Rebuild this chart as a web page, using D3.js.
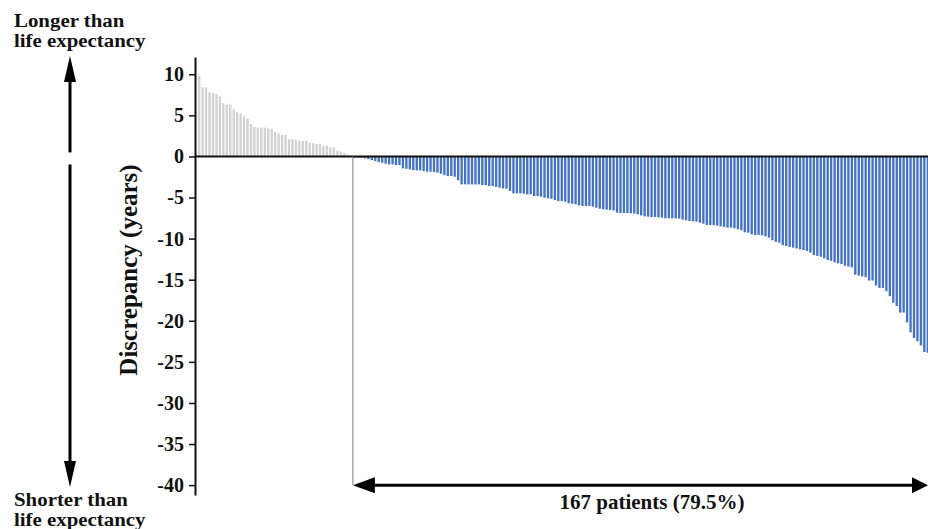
<!DOCTYPE html>
<html>
<head>
<meta charset="utf-8">
<script src="https://cdn.jsdelivr.net/npm/d3@7"></script>
<style>
  body { margin: 0; background: #fff; }
  text { font-family: "Liberation Serif", "Times New Roman", serif; font-weight: bold; }
</style>
</head>
<body>
<svg id="chart"></svg>
<script>
// survival longer than life expectancy (years), sorted
const longerLife = [
  9.8, 8.4, 8.4, 7.8, 7.7, 7.6, 7.3, 6.5, 6.3, 6.3, 5.7, 5.4, 5.2, 4.9, 4.6,
  3.9, 3.6, 3.5, 3.5, 3.5, 3.4, 3.3, 3.0, 2.8, 2.6, 2.6, 2.1, 2.1, 2.0, 1.9,
  1.9, 1.9, 1.7, 1.6, 1.5, 1.5, 1.3, 1.3, 1.1, 1.1, 0.7, 0.6, 0.4, 0.2, 0.05
];

// survival shorter than life expectancy (years), 167 patients
const shorterLife = [
  -0.16, -0.16, -0.16, -0.24, -0.32, -0.45, -0.57, -0.69, -0.77, -0.89, -0.97, -0.97, -1.05, -1.05,
  -1.46, -1.5, -1.58, -1.66, -1.7, -1.7, -1.78, -1.86, -1.86, -1.9, -1.98, -2.1, -2.27, -2.39, -2.39,
  -2.47, -2.9, -3.4, -3.4, -3.4, -3.4, -3.4, -3.4, -3.48, -3.5, -3.6, -3.6, -3.7, -3.8,
  -3.89, -3.93, -4.21, -4.49, -4.49, -4.49, -4.53, -4.61, -4.61, -4.82, -4.82, -4.9, -5.02, -5.1,
  -5.14, -5.3, -5.43, -5.43, -5.5, -5.7, -5.75, -5.83, -5.95, -6.03, -6.03, -6.03, -6.11, -6.23,
  -6.36, -6.44, -6.48, -6.52, -6.56, -6.84, -6.88, -6.88, -6.88, -6.92, -6.96, -7.04, -7.17, -7.29,
  -7.33, -7.37, -7.37, -7.41, -7.45, -7.53, -7.53, -7.53, -7.53, -7.57, -7.69, -7.77, -7.85, -7.89,
  -7.94, -8.06, -8.18, -8.34, -8.34, -8.38, -8.42, -8.5, -8.58, -8.66, -8.66, -8.74, -8.87, -8.99,
  -9.23, -9.27, -9.47, -9.55, -9.55, -9.6, -9.72, -9.88, -10.2, -10.4, -10.5, -10.8,
  -10.9, -11.0, -11.1, -11.2, -11.3, -11.4, -11.5, -11.7, -12.0, -12.1, -12.2, -12.4, -12.6, -12.7,
  -12.9, -13.0, -13.1, -13.3, -13.4, -13.5, -14.4, -14.5, -14.6, -14.7, -15.1, -15.1, -15.7, -16.0,
  -16.0, -16.4, -17.0, -17.8, -18.2, -19.0, -19.0, -20.2, -21.4, -22.1, -22.5, -23.0, -23.8, -23.9
];

const yTickValues = [10, 5, 0, -5, -10, -15, -20, -25, -30, -35, -40];
const shorterLabel = '167 patients (79.5%)';

const width = 928;
const height = 529;
const values = longerLife.concat(shorterLife);

const svg = d3.select('#chart')
  .attr('width', width)
  .attr('height', height);

const x = d3.scaleBand()
  .domain(d3.range(values.length))
  .range([198, 929])
  .paddingInner(0.32)
  .paddingOuter(0);

const y = d3.scaleLinear()
  .domain([-41.2, 12.1])
  .range([495, 57]);

// bars
svg.append('g')
  .selectAll('rect')
  .data(values)
  .join('rect')
  .attr('x', (d, i) => x(i))
  .attr('width', x.bandwidth())
  .attr('y', d => y(Math.max(0, d)))
  .attr('height', d => Math.abs(y(d) - y(0)))
  .attr('fill', (d, i) => i < longerLife.length ? '#d2d2d2' : '#4472c4');

// zero line
svg.append('line')
  .attr('x1', 195).attr('x2', width)
  .attr('y1', y(0)).attr('y2', y(0))
  .attr('stroke', '#111')
  .attr('stroke-width', 2);

// y axis
const yAxis = svg.append('g')
  .attr('transform', 'translate(195,0)')
  .call(d3.axisLeft(y).tickValues(yTickValues).tickFormat(d => String(d)).tickSize(6).tickSizeOuter(0).tickPadding(5));
yAxis.select('.domain').attr('stroke', '#111').attr('stroke-width', 2);
yAxis.selectAll('.tick line').attr('stroke', '#111').attr('stroke-width', 1.5);
yAxis.selectAll('.tick text')
  .attr('fill', '#111')
  .style('font-size', '20px')
  .style('font-family', '"Liberation Serif", serif')
  .style('font-weight', 'bold');

svg.append('text')
  .attr('transform', 'translate(137,270) rotate(-90)')
  .attr('text-anchor', 'middle')
  .style('font-size', '25px')
  .attr('fill', '#111')
  .text('Discrepancy (years)');

// boundary between groups
const xb = x(longerLife.length) - x.step() * x.paddingInner() / 2;
svg.append('line')
  .attr('x1', xb).attr('x2', xb)
  .attr('y1', y(0)).attr('y2', y(-40))
  .attr('stroke', '#808080')
  .attr('stroke-width', 1);

// double arrow under the negative bars
const ay = y(-40);
svg.append('line')
  .attr('x1', xb + 10).attr('x2', width - 10)
  .attr('y1', ay).attr('y2', ay)
  .attr('stroke', '#000')
  .attr('stroke-width', 3);
svg.append('path')
  .attr('d', `M${xb},${ay} L${xb + 22},${ay - 8} L${xb + 22},${ay + 8} Z`)
  .attr('fill', '#000');
svg.append('path')
  .attr('d', `M${width},${ay} L${width - 16},${ay - 8} L${width - 16},${ay + 8} Z`)
  .attr('fill', '#000');

svg.append('text')
  .attr('x', 652).attr('y', 509)
  .attr('text-anchor', 'middle')
  .style('font-size', '21px')
  .attr('fill', '#111')
  .text(shorterLabel);

// vertical direction arrows on the left
const ax = 70;
const topTip = 56, botTip = 487;
svg.append('line')
  .attr('x1', ax).attr('x2', ax)
  .attr('y1', topTip + 20).attr('y2', y(0) - 4)
  .attr('stroke', '#000').attr('stroke-width', 3);
svg.append('line')
  .attr('x1', ax).attr('x2', ax)
  .attr('y1', y(0) + 8).attr('y2', botTip - 20)
  .attr('stroke', '#000').attr('stroke-width', 3);
svg.append('path')
  .attr('d', `M${ax},${topTip} L${ax - 6},${topTip + 26} L${ax + 6},${topTip + 26} Z`)
  .attr('fill', '#000');
svg.append('path')
  .attr('d', `M${ax},${botTip} L${ax - 6},${botTip - 26} L${ax + 6},${botTip - 26} Z`)
  .attr('fill', '#000');

// two-line corner labels (tight leading, slightly widened glyphs)
const cornerLines = [
  { t: 'Longer than', y: 26.5 },
  { t: 'life expectancy', y: 46.5 },
  { t: 'Shorter than', y: 506 },
  { t: 'life expectancy', y: 526 }
];
svg.selectAll('.corner')
  .data(cornerLines)
  .join('text')
  .attr('class', 'corner')
  .attr('transform', d => `translate(14,${d.y}) scale(1.16,1)`)
  .style('font-size', '18px')
  .attr('fill', '#111')
  .text(d => d.t);
</script>
</body>
</html>
